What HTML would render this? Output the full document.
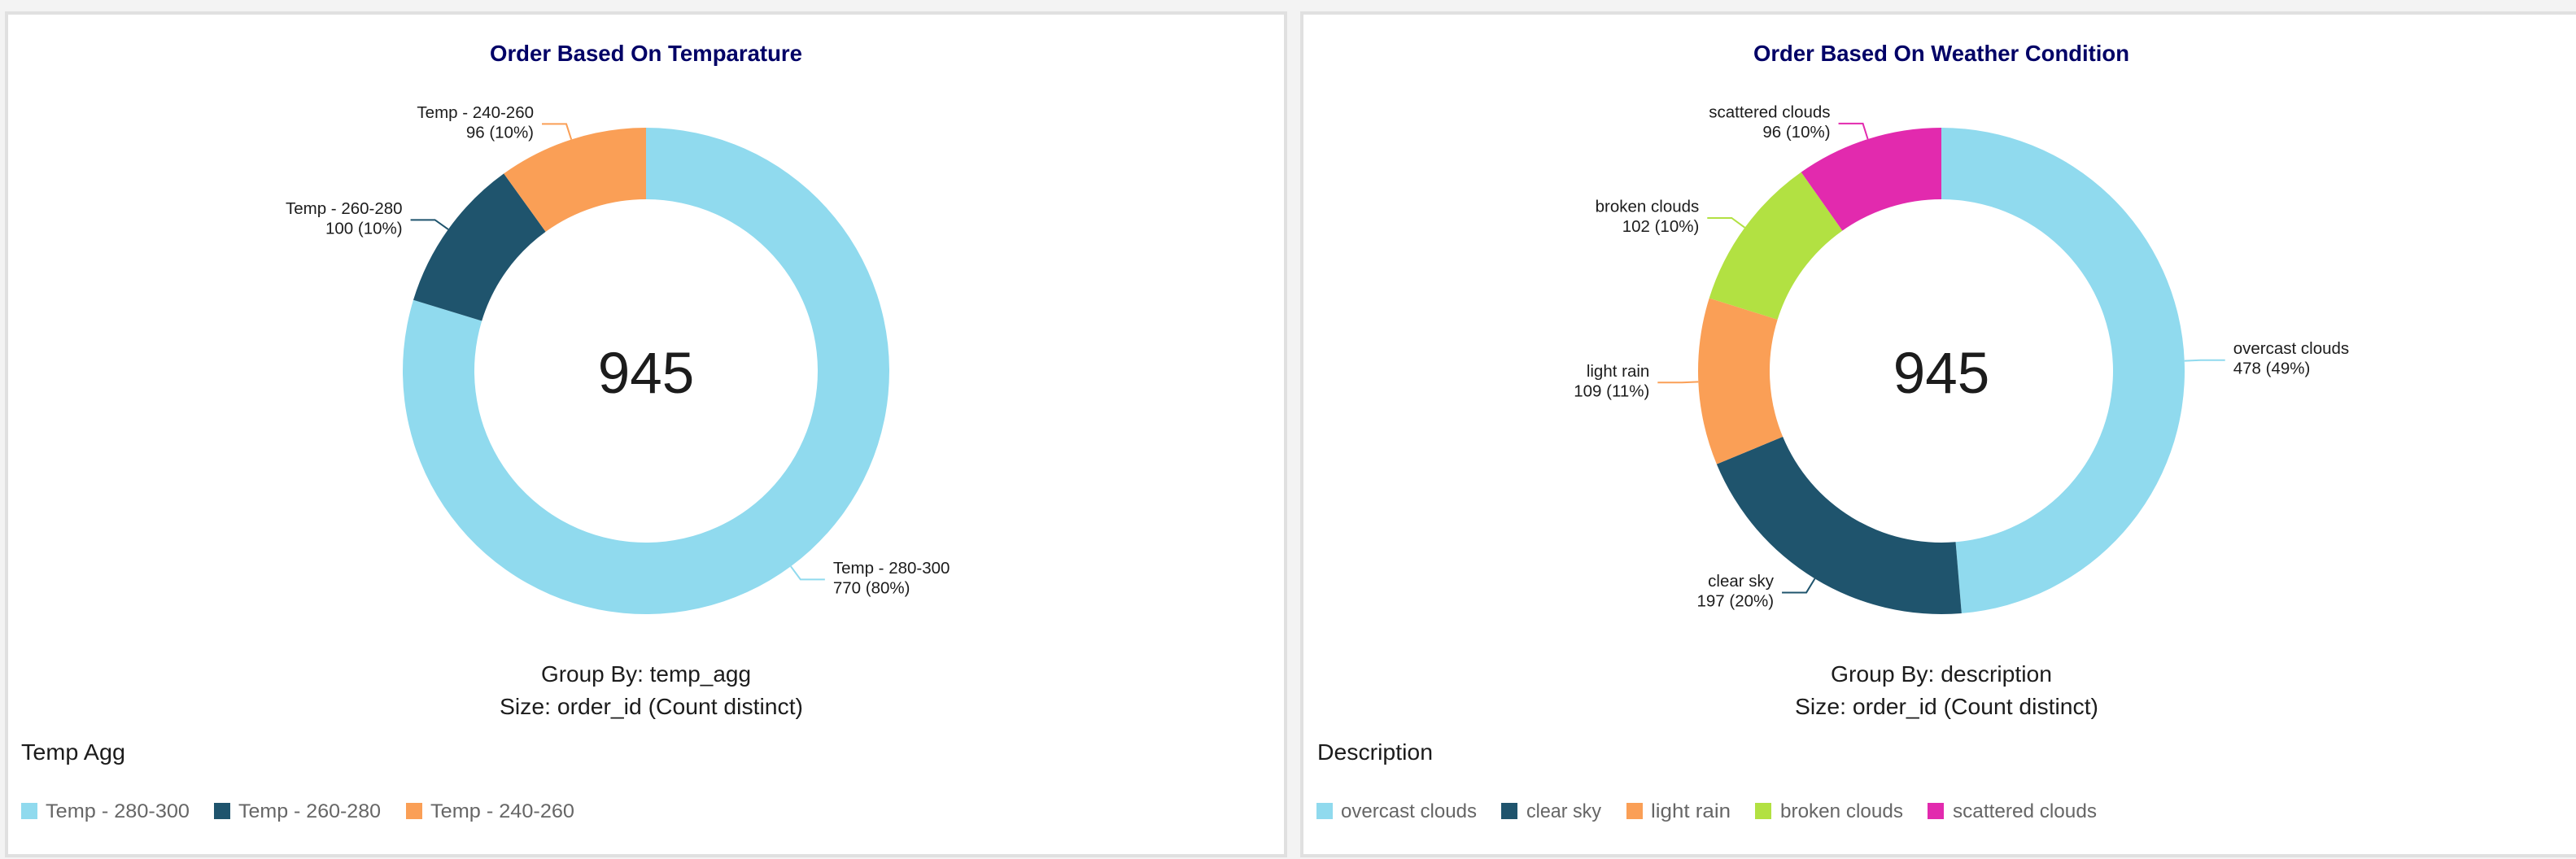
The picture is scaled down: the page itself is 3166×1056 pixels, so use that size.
<!DOCTYPE html>
<html lang="en">
<head>
<meta charset="utf-8">
<title>Order dashboards</title>
<style>
html,body{margin:0;padding:0;width:3166px;height:1056px;overflow:hidden;background:#f3f3f3;}
svg{display:block;font-family:"Liberation Sans",sans-serif;}
.title{font-size:27.4px;font-weight:700;fill:#000066;}
.caption{font-size:27.5px;fill:#1c1c1c;}
.legend-title{font-size:27.5px;fill:#1c1c1c;}
.legend-text{font-size:24.5px;fill:#666;}
.label{font-size:20.5px;fill:#1c1c1c;}
.center{font-size:71px;fill:#1c1c1c;text-anchor:middle;}
</style>
</head>
<body>
<svg id="dash" xmlns="http://www.w3.org/2000/svg" width="3166" height="1056" viewBox="0 0 3166 1056">
  <rect x="8" y="16" width="1572" height="1036" fill="#fff" stroke="#e0e0e0" stroke-width="4"/>
  <rect x="1600" y="16" width="1580" height="1036" fill="#fff" stroke="#e0e0e0" stroke-width="4"/>

  <text class="title" x="602" y="75" textLength="384" lengthAdjust="spacingAndGlyphs">Order Based On Temparature</text>
  <text class="title" x="2155" y="75" textLength="462" lengthAdjust="spacingAndGlyphs">Order Based On Weather Condition</text>

  <text class="caption" x="665" y="838" textLength="258" lengthAdjust="spacingAndGlyphs">Group By: temp_agg</text>
  <text class="caption" x="614" y="878" textLength="373" lengthAdjust="spacingAndGlyphs">Size: order_id (Count distinct)</text>
  <text class="caption" x="2250" y="838" textLength="272" lengthAdjust="spacingAndGlyphs">Group By: description</text>
  <text class="caption" x="2206" y="878" textLength="373" lengthAdjust="spacingAndGlyphs">Size: order_id (Count distinct)</text>

  <text class="legend-title" x="26" y="934" textLength="128" lengthAdjust="spacingAndGlyphs">Temp Agg</text>
  <text class="legend-title" x="1619" y="934" textLength="142" lengthAdjust="spacingAndGlyphs">Description</text>

  <g>
    <g><rect x="26" y="987" width="20" height="20" fill="#90DAEE"/><text class="legend-text" x="56" y="1005" textLength="177" lengthAdjust="spacingAndGlyphs">Temp - 280-300</text></g>
    <g><rect x="263" y="987" width="20" height="20" fill="#1F546D"/><text class="legend-text" x="293" y="1005" textLength="175" lengthAdjust="spacingAndGlyphs">Temp - 260-280</text></g>
    <g><rect x="499" y="987" width="20" height="20" fill="#FA9F56"/><text class="legend-text" x="529" y="1005" textLength="177" lengthAdjust="spacingAndGlyphs">Temp - 240-260</text></g>
  </g>
  <g>
    <g><rect x="1618" y="987" width="20" height="20" fill="#90DAEE"/><text class="legend-text" x="1648" y="1005" textLength="167" lengthAdjust="spacingAndGlyphs">overcast clouds</text></g>
    <g><rect x="1845" y="987" width="20" height="20" fill="#1F546D"/><text class="legend-text" x="1876" y="1005" textLength="92" lengthAdjust="spacingAndGlyphs">clear sky</text></g>
    <g><rect x="1999" y="987" width="20" height="20" fill="#FA9F56"/><text class="legend-text" x="2029" y="1005" textLength="98" lengthAdjust="spacingAndGlyphs">light rain</text></g>
    <g><rect x="2157" y="987" width="20" height="20" fill="#B2E142"/><text class="legend-text" x="2188" y="1005" textLength="151" lengthAdjust="spacingAndGlyphs">broken clouds</text></g>
    <g><rect x="2369" y="987" width="20" height="20" fill="#E22AAE"/><text class="legend-text" x="2400" y="1005" textLength="177" lengthAdjust="spacingAndGlyphs">scattered clouds</text></g>
  </g>
</svg>
<script>
// Chart data
const tempCategories = ['Temp - 280-300', 'Temp - 260-280', 'Temp - 240-260'];
const tempValues = [770, 100, 96];
const tempTotalLabel = '945';
const weatherCategories = ['overcast clouds', 'clear sky', 'light rain', 'broken clouds', 'scattered clouds'];
const weatherValues = [478, 197, 109, 102, 96];
const weatherTotalLabel = '945';

// Chart styling and layout
const sliceColors = ['#90DAEE', '#1F546D', '#FA9F56', '#B2E142', '#E22AAE'];
const OUTER_R = 299, INNER_R = 211, CENTER_Y = 456;
const ELBOW_OFFSET = 20, LEADER_RUN = 30, LABEL_GAP = 10;
const SVG_NS = 'http://www.w3.org/2000/svg';
const root = document.getElementById('dash');

function polar(cx, r, angle) {
  return [cx + r * Math.sin(angle), CENTER_Y - r * Math.cos(angle)];
}
function angleScale(values) {
  const sum = values.reduce(function (a, b) { return a + b; }, 0);
  return function (v) { return v / sum * Math.PI * 2; };
}
function arcPath(cx, a0, a1) {
  const large = a1 - a0 > Math.PI ? 1 : 0;
  const p0 = polar(cx, OUTER_R, a0), p1 = polar(cx, OUTER_R, a1);
  const p2 = polar(cx, INNER_R, a1), p3 = polar(cx, INNER_R, a0);
  return 'M' + p0[0] + ' ' + p0[1] +
    'A' + OUTER_R + ' ' + OUTER_R + ' 0 ' + large + ' 1 ' + p1[0] + ' ' + p1[1] +
    'L' + p2[0] + ' ' + p2[1] +
    'A' + INNER_R + ' ' + INNER_R + ' 0 ' + large + ' 0 ' + p3[0] + ' ' + p3[1] + 'Z';
}
function drawDonut(chartName, cx, categories, values, totalLabel) {
  const scale = angleScale(values);
  const sum = values.reduce(function (a, b) { return a + b; }, 0);
  let start = 0;
  values.forEach(function (value, i) {
    const sweep = scale(value);
    const mid = start + sweep / 2;
    const color = sliceColors[i % sliceColors.length];
    const slug = categories[i].toLowerCase().replace(/[^a-z0-9]+/g, '-');

    const slice = document.createElementNS(SVG_NS, 'path');
    
    
    slice.setAttribute('d', arcPath(cx, start, start + sweep));
    slice.setAttribute('fill', color);
    root.appendChild(slice);

    const right = Math.sin(mid) >= 0;
    const dir = right ? 1 : -1;
    const a = polar(cx, OUTER_R, mid);
    const b = polar(cx, OUTER_R + ELBOW_OFFSET, mid);
    const endX = b[0] + dir * LEADER_RUN;

    const leader = document.createElementNS(SVG_NS, 'polyline');
    
    
    leader.setAttribute('points', a[0] + ',' + a[1] + ' ' + b[0] + ',' + b[1] + ' ' + endX + ',' + b[1]);
    leader.setAttribute('fill', 'none');
    leader.setAttribute('stroke', color);
    leader.setAttribute('stroke-width', '2');
    root.appendChild(leader);

    const labelX = endX + dir * LABEL_GAP;
    const anchor = right ? 'start' : 'end';

    const nameText = document.createElementNS(SVG_NS, 'text');
    
    
    nameText.setAttribute('class', 'label');
    nameText.setAttribute('x', labelX);
    nameText.setAttribute('y', b[1] - 7.5);
    nameText.setAttribute('text-anchor', anchor);
    nameText.textContent = categories[i];
    root.appendChild(nameText);

    const valueText = document.createElementNS(SVG_NS, 'text');
    
    
    valueText.setAttribute('class', 'label');
    valueText.setAttribute('x', labelX);
    valueText.setAttribute('y', b[1] + 17);
    valueText.setAttribute('text-anchor', anchor);
    valueText.textContent = value + ' (' + Math.round(value / sum * 100) + '%)';
    root.appendChild(valueText);

    start += sweep;
  });

  const center = document.createElementNS(SVG_NS, 'text');
  
  
  center.setAttribute('class', 'center');
  center.setAttribute('x', cx);
  center.setAttribute('y', 483);
  center.textContent = totalLabel;
  root.appendChild(center);
}
drawDonut('temperature', 794, tempCategories, tempValues, tempTotalLabel);
drawDonut('weather', 2386, weatherCategories, weatherValues, weatherTotalLabel);
</script>
</body>
</html>
